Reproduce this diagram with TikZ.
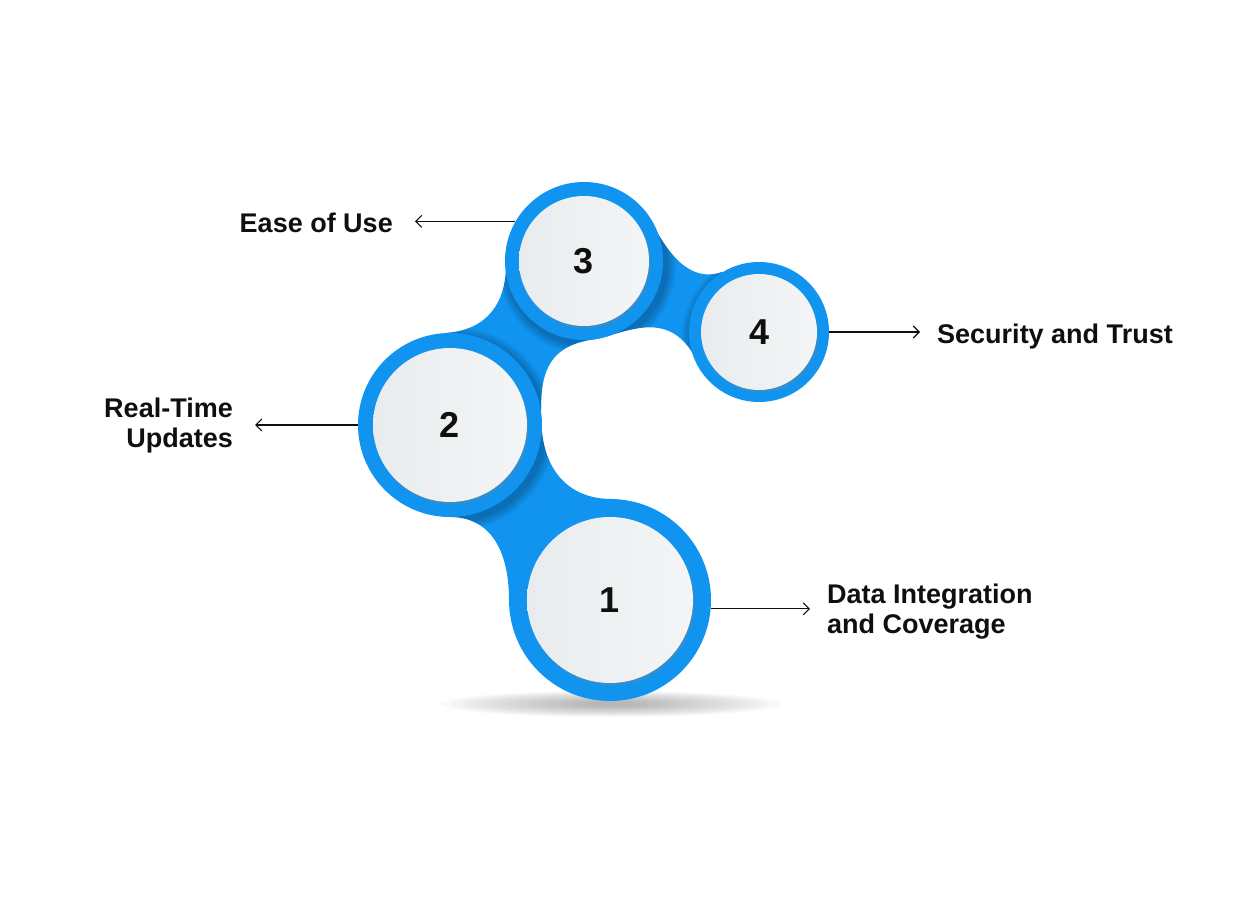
\documentclass[tikz,border=0pt]{standalone}
\usepackage{fontspec}
\setmainfont{Liberation Sans}
\usetikzlibrary{positioning,arrows.meta,shadows}
\definecolor{ringblue}{RGB}{16,148,240}
\definecolor{discl}{RGB}{233,236,238}
\definecolor{discr}{RGB}{243,245,246}
\definecolor{inkblack}{RGB}{15,15,15}

\begin{document}
\begin{tikzpicture}[x=1pt, y=-1pt,
        ring/.style={circle, fill=ringblue, inner sep=0pt},
        disc/.style={circle, left color=discl, right color=discr, inner sep=0pt,
                     text=inkblack, font=\fontsize{36}{40}\selectfont\bfseries,
                     drop shadow={shadow xshift=1.5pt, shadow yshift=-2.5pt, opacity=0.35}},
        lbl/.style={inner sep=0pt, text=inkblack, font=\fontsize{27}{30}\selectfont\bfseries},
        arr/.style={line width=1.1pt, inkblack, -{Straight Barb[length=6pt, width=12pt]}}
      ]
        \useasboundingbox (0,0) rectangle (1260,904);
        % links between the rings
        \def\linkA{(450,517) .. controls (490,517) and (509,550) .. (509,600)
                   -- (612,499) .. controls (568,499) and (546,470) .. (542,432) -- cycle}
        \def\linkB{(445,333) .. controls (490,330) and (505,300) .. (506,268)
                   -- (584,261) -- (596,339) .. controls (550,345) and (541,370) .. (541,410)
                   -- (450,425) -- cycle}
        \def\linkC{(649,217) .. controls (668,255) and (690,283) .. (722,272)
                   -- (759,332) -- (692,352) .. controls (665,310) and (625,333) .. (596,339)
                   -- (584,261) -- cycle}
        % floor shadow
        \foreach \k in {0,...,13}
          \fill[black, opacity=0.025] (610,704) ellipse ({170-11*\k} and {13-0.8*\k});
        \fill[ringblue] \linkA;
        \fill[ringblue] \linkB;
        \fill[ringblue] \linkC;
        % darker blue under the rings
        \begin{scope}
          \clip \linkA \linkB \linkC;
          \foreach \cx/\cy/\r in {450/425/92, 584/261/79, 759/332/70}
            \foreach \k in {1,...,5}
              \fill[black, opacity=0.05] (\cx+3,\cy+4) circle ({\r+2*\k});
        \end{scope}
        \node[ring, minimum size=202pt] at (610,600) (o1) {};
        \node[ring, minimum size=184pt] at (450,425) (o2) {};
        \node[ring, minimum size=158pt] at (584,261) (o3) {};
        \node[ring, minimum size=140pt] at (759,332) (o4) {};
        \node[disc, minimum size=166pt] at (o1) (d1) {1};
        \node[disc, minimum size=154pt] at (o2) (d2) {2};
        \node[disc, minimum size=130pt] at (o3) (d3) {3};
        \node[disc, minimum size=116pt] at (o4) (d4) {4};
        % labels
        \node[lbl, anchor=base east] at (393,232) (ease) {Ease of Use};
        \node[lbl, anchor=east, align=right] at (233,426) (realtime) {Real-Time\\Updates};
        \node[lbl, anchor=base west] at (937,343) (security) {Security and Trust};
        \node[lbl, anchor=west, align=left] at (827,612) (data) {Data Integration\\and Coverage};
        \draw[arr, shorten >=22pt] (o3.150) -- (o3.150 -| ease.east);
        \draw[arr, shorten >=22pt] (o2.west) -- (o2.west -| realtime.east);
        \draw[arr, shorten >=17pt] (o4.east) -- (o4.east -| security.west);
        \draw[arr, shorten >=17pt] (o1.-5.7) -- (o1.-5.7 -| data.west);
\end{tikzpicture}
\end{document}
